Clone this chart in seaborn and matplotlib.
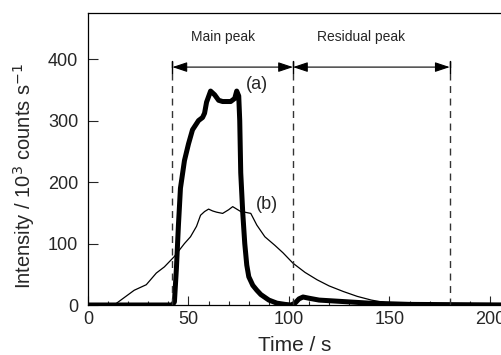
import matplotlib
matplotlib.use("Agg")
import matplotlib.pyplot as plt
import seaborn as sns
import pandas as pd
from matplotlib.ticker import MultipleLocator

# ---- data ----
a_time = [0, 42, 43, 44, 45, 46, 48, 50, 52, 55, 57, 58, 59, 61, 63, 65, 67, 71, 73, 74, 75,
          75.5, 76, 77, 78, 79, 80, 82, 84, 86, 90, 94, 98, 101, 103, 105, 107, 110, 115,
          120, 130, 140, 150, 160, 210]
a_int = [0, 0, 5, 60, 130, 190, 235, 262, 285, 300, 305, 312, 330, 348, 342, 333, 331, 331,
         336, 348, 340, 300, 215, 150, 100, 65, 46, 32, 24, 17, 8, 3, 1, 0, 3, 10, 13, 11, 8,
         7, 5, 3, 2, 1, 0]

b_time = [0, 13, 18, 23, 29, 34, 38, 43, 48, 51, 54, 56, 58, 60, 62, 64, 67, 70, 72, 74, 76,
          78, 81, 84, 88, 93, 97, 102, 108, 114, 120, 127, 134, 141, 151, 160, 210]
b_int = [0, 0, 12, 24, 33, 52, 62, 79, 100, 111, 128, 146, 152, 156, 153, 151, 149, 155, 160,
         156, 152, 151, 149, 130, 111, 97, 85, 68, 53, 41, 31, 22, 14, 8, 2, 0, 0]

boundaries = [42, 102, 180]
region_labels = ["Main peak", "Residual peak"]
curve_labels = ["(a)", "(b)"]

sns.set_style("ticks")
plt.rcParams['font.family'] = ['Liberation Sans', 'DejaVu Sans']

fig = plt.figure(figsize=(5.02, 3.55), dpi=100)
ax = fig.add_axes([88/502, 50/355, 1 - 88/502, (305-13)/355])

df_a = pd.DataFrame({"t": a_time, "I": a_int})
df_b = pd.DataFrame({"t": b_time, "I": b_int})
sns.lineplot(data=df_b, x="t", y="I", ax=ax, color="black", lw=0.9, sort=False)
sns.lineplot(data=df_a, x="t", y="I", ax=ax, color="black", lw=3.6, sort=False,
             solid_joinstyle="round", solid_capstyle="round")

# dashed boundaries
for xb in boundaries:
    ax.plot([xb, xb], [0, 397], color="#333333", lw=1.0, ls=(0, (5, 4)))
    ax.plot([xb, xb], [378, 397], color="black", lw=1.0)

# double arrows
for x0, x1 in zip(boundaries[:-1], boundaries[1:]):
    ax.annotate("", xy=(x1, 387), xytext=(x0, 387),
                arrowprops=dict(arrowstyle="<|-|>,head_length=0.9,head_width=0.3",
                                lw=0.8, color="black", shrinkA=0, shrinkB=0))

ax.text(67, 436, region_labels[0], ha="center", va="center", fontsize=10)
ax.text(136, 436, region_labels[1], ha="center", va="center", fontsize=10)
ax.text(84, 358, curve_labels[0], ha="center", va="center", fontsize=13)
ax.text(89, 163, curve_labels[1], ha="center", va="center", fontsize=13)

ax.set_xlim(0, 206)
ax.set_ylim(0, 475)
ax.xaxis.set_major_locator(MultipleLocator(50))
ax.xaxis.set_minor_locator(MultipleLocator(10))
ax.yaxis.set_major_locator(MultipleLocator(100))
ax.tick_params(axis="x", which="major", direction="in", length=6.5, width=0.8,
               labelsize=13, pad=4)
ax.tick_params(axis="x", which="minor", direction="in", length=3, width=0.8)
ax.tick_params(axis="y", which="major", direction="in", length=7.5, width=0.8,
               labelsize=13, pad=7)
for s in ["left", "bottom", "top"]:
    ax.spines[s].set_linewidth(0.9)
    ax.spines[s].set_color("black")
ax.spines["right"].set_visible(False)

ax.set_xlabel("Time / s", fontsize=15)
ax.set_ylabel("Intensity / 10$^3$ counts s$^{-1}$", fontsize=14.5)
ax.xaxis.set_label_coords(0.5, -0.105)
ax.yaxis.set_label_coords(-0.123, 0.442)

fig.savefig("out.png", dpi=100)
